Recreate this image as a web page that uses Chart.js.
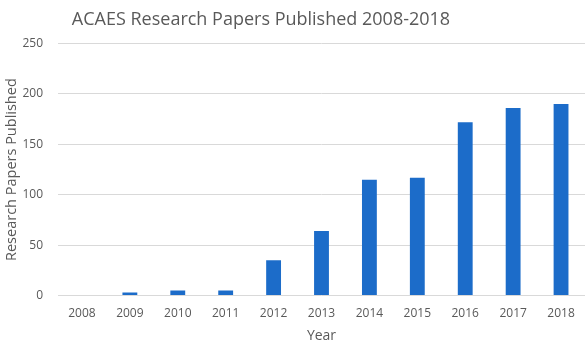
<!DOCTYPE html>
<html>
<head>
<meta charset="utf-8">
<script src="https://cdn.jsdelivr.net/npm/chart.js@4"></script>
<style>
    body { margin: 0; background: #fff; }
    #wrap { width: 588px; height: 343px; }
</style>
</head>
<body>
<div id="wrap"><canvas id="barChart" width="588" height="343"></canvas></div>
<script>
// data
const years = ['2008', '2009', '2010', '2011', '2012', '2013', '2014', '2015', '2016', '2017', '2018'];
const papers = [0, 3, 5, 5, 35, 64, 115, 117, 172, 186, 190];
const yTicks = [0, 50, 100, 150, 200, 250];

const TEXT = '#595959';
const GRID = '#d9d9d9';
const BAR = '#1c6cc9';

Chart.defaults.font.family = "'Open Sans', 'Liberation Sans', sans-serif";
Chart.defaults.color = TEXT;

// shift the title to sit where it does in the original (a bit left of centre)
const titleShift = {
    id: 'titleShift',
    afterLayout(chart) {
        chart.titleBlock.left = 0;
        chart.titleBlock.right = 522;
    }
};

new Chart(document.getElementById('barChart'), {
    type: 'bar',
    data: {
        labels: years,
        datasets: [{
            label: 'Research Papers Published',
            data: papers,
            backgroundColor: BAR,
            borderWidth: 0,
            barPercentage: 0.31,
            categoryPercentage: 1
        }]
    },
    options: {
        responsive: false,
        animation: false,
        layout: { padding: { left: 0, right: 3, top: 9, bottom: 0 } },
        plugins: {
            legend: { display: false },
            tooltip: { enabled: false },
            title: {
                display: true,
                text: 'ACAES Research Papers Published 2008-2018',
                color: TEXT,
                font: { size: 18, weight: 'normal' },
                padding: { top: 0, bottom: 13 }
            }
        },
        scales: {
            x: {
                grid: { display: false },
                border: { display: false },
                ticks: { color: TEXT, font: { size: 12 }, padding: 3, maxRotation: 0 },
                title: {
                    display: true,
                    text: 'Year',
                    color: TEXT,
                    font: { size: 14, lineHeight: 1 },
                    padding: { top: 5, bottom: 0 }
                }
            },
            y: {
                min: 0,
                max: 250,
                afterBuildTicks(axis) {
                    axis.ticks = yTicks.map(v => ({ value: v }));
                },
                afterFit(axis) {
                    axis.width = 58;
                },
                grid: { color: GRID, lineWidth: 1, drawTicks: false },
                border: { display: false },
                ticks: { color: TEXT, font: { size: 12 }, padding: 15 },
                title: {
                    display: true,
                    text: 'Research Papers Published',
                    color: TEXT,
                    font: { size: 14.5 },
                    padding: { top: 3, bottom: 0 }
                }
            }
        }
    },
    plugins: [titleShift]
});
</script>
</body>
</html>
